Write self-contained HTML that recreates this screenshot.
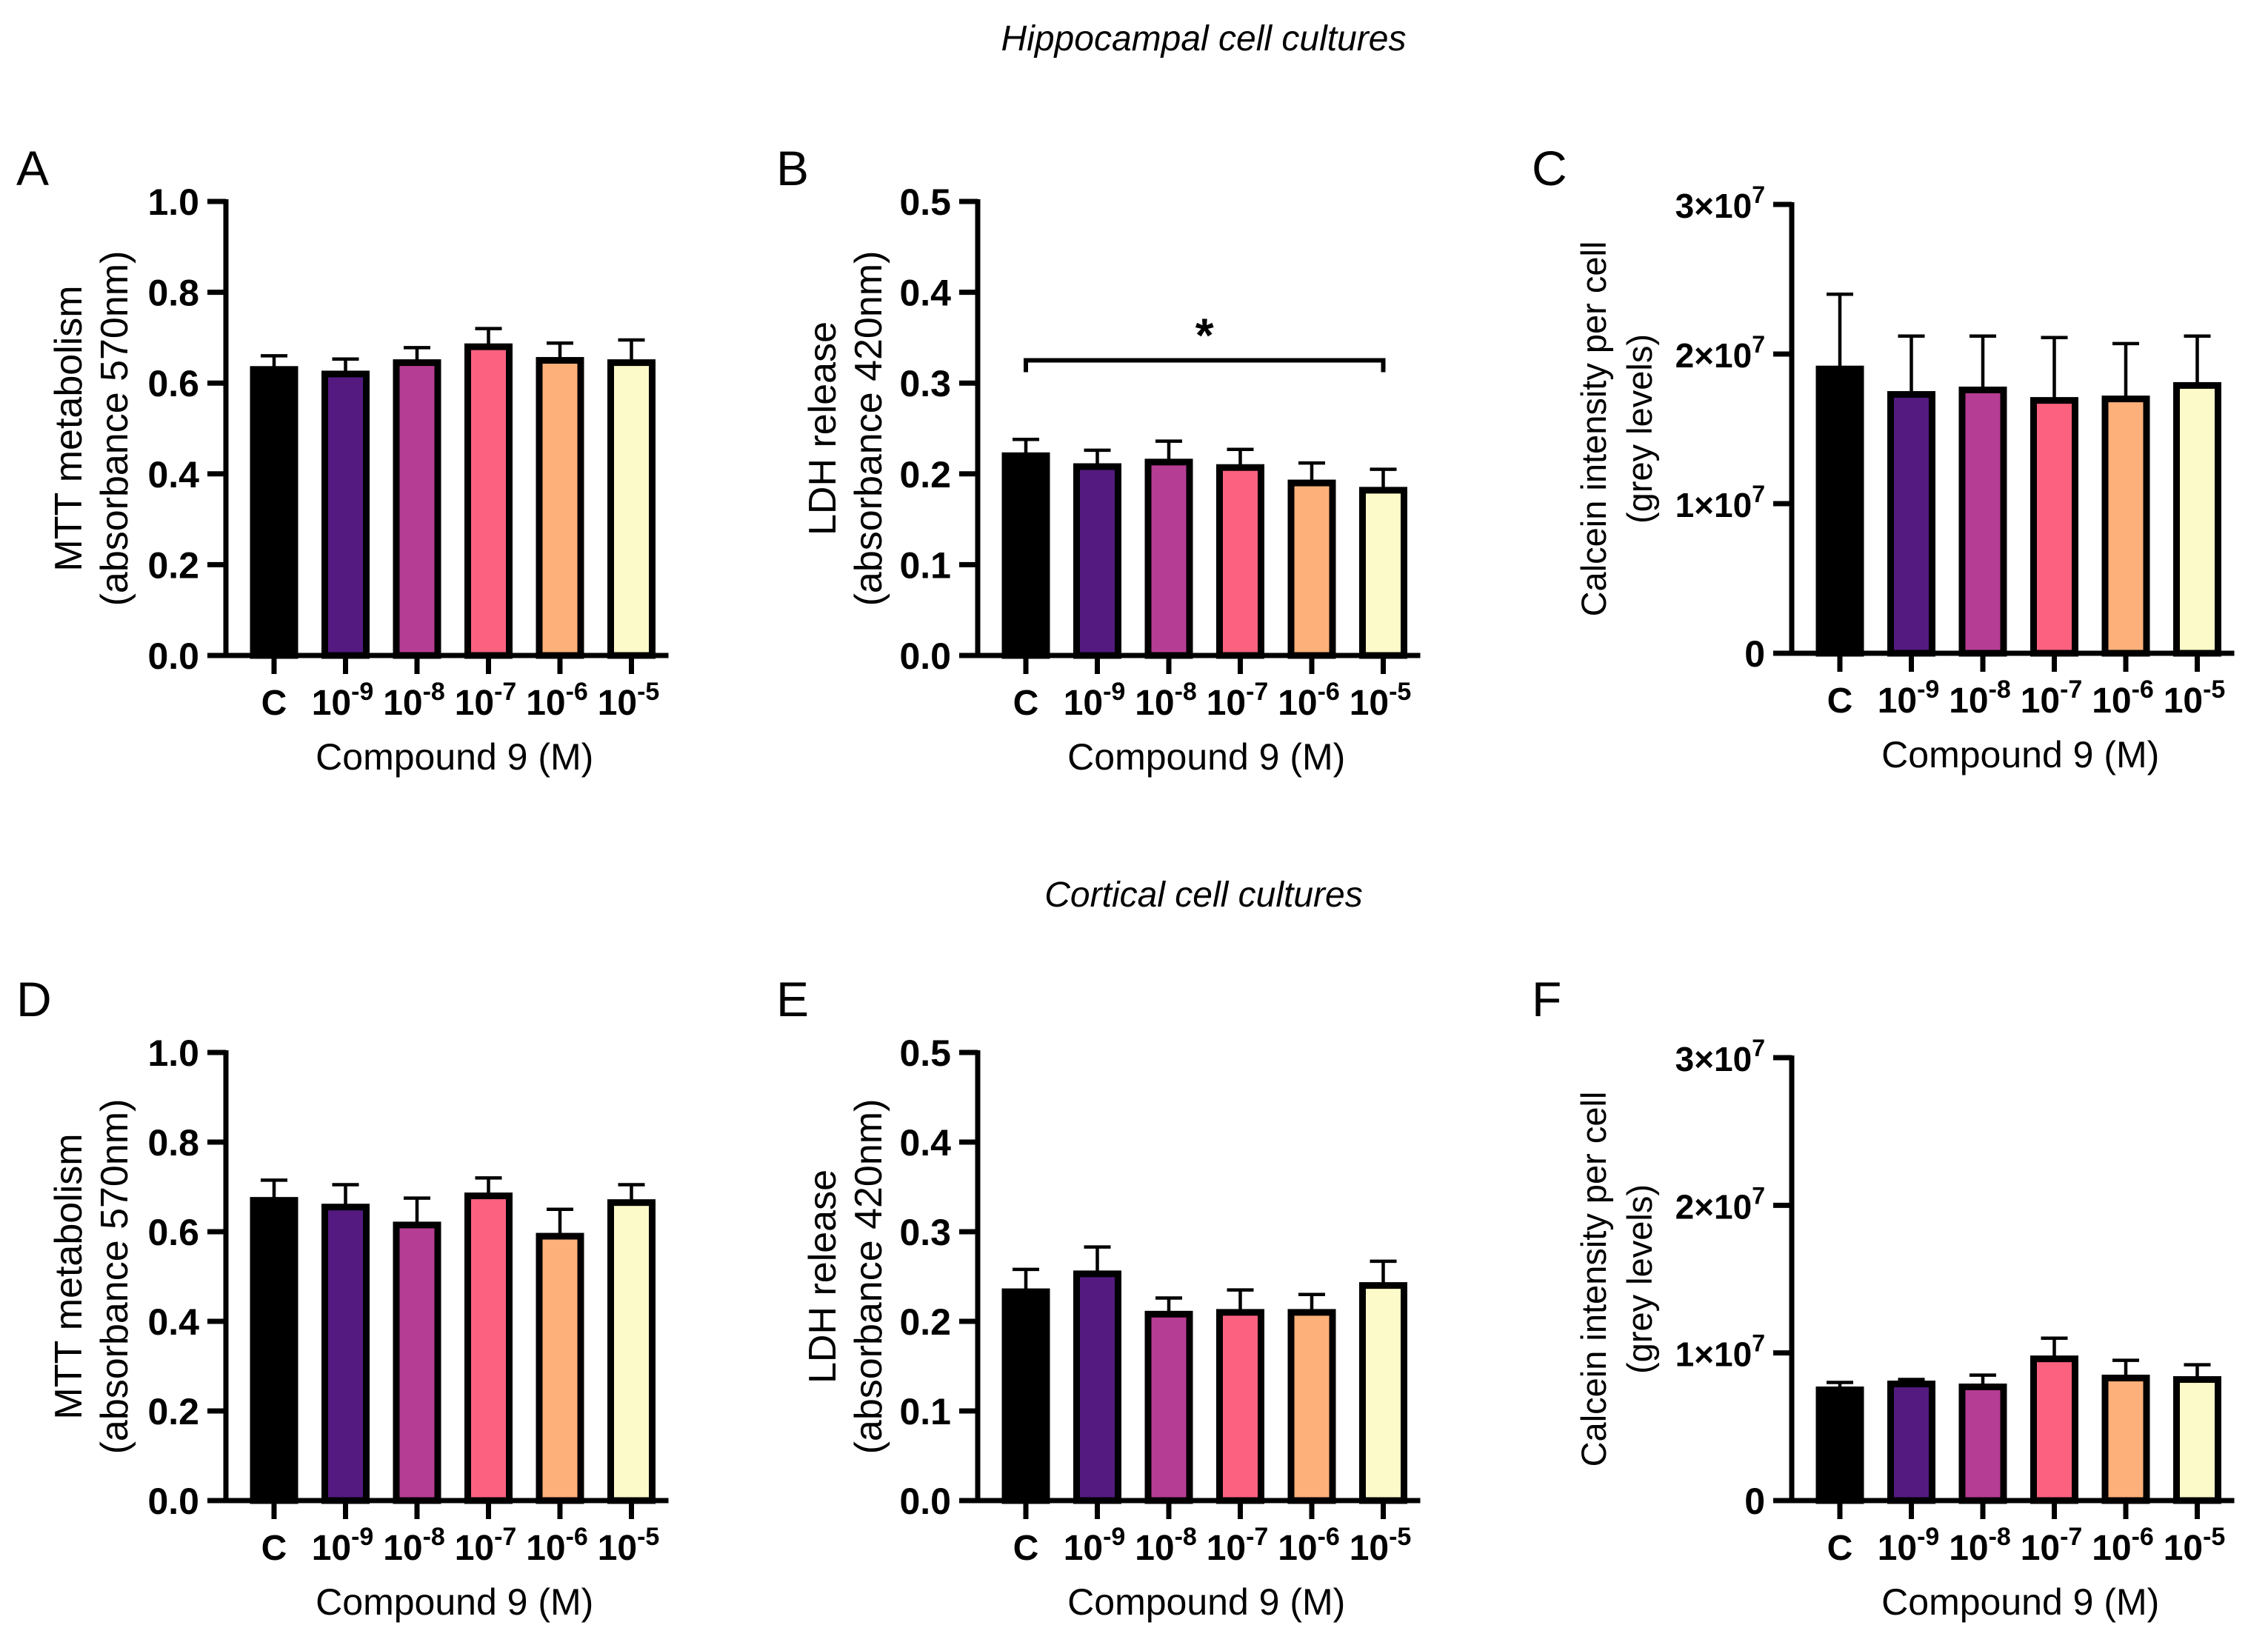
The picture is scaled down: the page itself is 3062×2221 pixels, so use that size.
<!DOCTYPE html>
<html><head><meta charset="utf-8">
<style>
html,body{margin:0;padding:0;background:#fff;}
svg{display:block;font-family:"Liberation Sans",Arial,sans-serif;}
</style></head>
<body>
<svg id="fig" width="3062" height="2221" viewBox="0 0 3062 2221" xmlns="http://www.w3.org/2000/svg">
<text x="1625" y="68" font-size="48" font-style="italic" text-anchor="middle">Hippocampal cell cultures</text>
<text x="1625" y="1224" font-size="48" font-style="italic" text-anchor="middle">Cortical cell cultures</text>
</svg>
<script>
const categories = ["C","-9","-8","-7","-6","-5"];
const colors = ["#000000","#541A80","#B63D94","#FC6180","#FDB07A","#FCFAC8"];
const valsA = [0.63,0.62,0.645,0.68,0.65,0.645];
const errA  = [0.03,0.033,0.033,0.04,0.038,0.05];
const valsB = [0.22,0.208,0.213,0.207,0.19,0.182];
const errB  = [0.018,0.018,0.023,0.02,0.022,0.023];
const valsC = [1.9e7,1.73e7,1.76e7,1.69e7,1.70e7,1.79e7];
const errC  = [0.5e7,0.39e7,0.36e7,0.42e7,0.37e7,0.33e7];
const valsD = [0.67,0.655,0.615,0.68,0.59,0.665];
const errD  = [0.045,0.05,0.06,0.04,0.06,0.04];
const valsE = [0.233,0.253,0.208,0.21,0.21,0.24];
const errE  = [0.025,0.03,0.018,0.025,0.02,0.027];
const valsF = [0.75e7,0.79e7,0.77e7,0.96e7,0.83e7,0.82e7];
const errF  = [0.05e7,0.03e7,0.08e7,0.14e7,0.12e7,0.1e7];
const ticksMTT = [0,0.2,0.4,0.6,0.8,1.0];
const ticksLDH = [0,0.1,0.2,0.3,0.4,0.5];
const ticksCal = [0,1e7,2e7,3e7];
const sigB = {from:0,to:5,level:0.325,label:"*"};

const NS="http://www.w3.org/2000/svg";
const svg=document.getElementById('fig');
function mk(tag,attrs,parent){const e=document.createElementNS(NS,tag);for(const k in attrs)e.setAttribute(k,attrs[k]);(parent||svg).appendChild(e);return e;}

const panels=[
 {letter:"A",lx:22,ly:250,ax:305,top:272,bot:885,max:1.0,ticks:ticksMTT,fmt:v=>v.toFixed(1),vals:valsA,err:errA,t1:"MTT metabolism",t2:"(absorbance 570nm)",tx:92,tf:52},
 {letter:"B",lx:1048,ly:250,ax:1320,top:272,bot:885,max:0.5,ticks:ticksLDH,fmt:v=>v.toFixed(1),vals:valsB,err:errB,t1:"LDH release",t2:"(absorbance 420nm)",tx:1110,sig:sigB,tf:52},
 {letter:"C",lx:2068,ly:250,ax:2419,top:276,bot:882,max:3e7,ticks:ticksCal,fmt:"sci",vals:valsC,err:errC,t1:"Calcein intensity per cell",t2:"(grey levels)",tx:2150,tf:47},
 {letter:"D",lx:22,ly:1372,ax:305,top:1421,bot:2026,max:1.0,ticks:ticksMTT,fmt:v=>v.toFixed(1),vals:valsD,err:errD,t1:"MTT metabolism",t2:"(absorbance 570nm)",tx:92,tf:52},
 {letter:"E",lx:1048,ly:1372,ax:1320,top:1421,bot:2026,max:0.5,ticks:ticksLDH,fmt:v=>v.toFixed(1),vals:valsE,err:errE,t1:"LDH release",t2:"(absorbance 420nm)",tx:1110,tf:52},
 {letter:"F",lx:2068,ly:1372,ax:2419,top:1428,bot:2026,max:3e7,ticks:ticksCal,fmt:"sci",vals:valsF,err:errF,t1:"Calcein intensity per cell",t2:"(grey levels)",tx:2150,tf:47}
];

panels.forEach(p=>{
  const g=mk('g',{});
  
  
  const y=v=>p.bot-(v/p.max)*(p.bot-p.top);
  const xc=i=>p.ax+65+i*96.5;
  const lt=mk('text',{x:p.lx,y:p.ly,'font-size':66},g); lt.textContent=p.letter;
  
  
  p.vals.forEach((v,i)=>{
    const top=y(v+p.err[i]);
    const el=mk('line',{x1:xc(i),x2:xc(i),y1:y(v),y2:top,stroke:'#000','stroke-width':4.5},g);
    
    
    const cap=mk('line',{x1:xc(i)-18,x2:xc(i)+18,y1:top,y2:top,stroke:'#000','stroke-width':4.5},g);
    
    
    const r=mk('rect',{x:xc(i)-28,y:y(v),width:56,height:p.bot-y(v),fill:colors[i],stroke:'#000','stroke-width':9},g);
    
    
  });
  const ya=mk('line',{x1:p.ax,x2:p.ax,y1:p.top-3,y2:p.bot+3,stroke:'#000','stroke-width':7},g);
  
  
  const xa=mk('line',{x1:p.ax-25,x2:xc(5)+50,y1:p.bot,y2:p.bot,stroke:'#000','stroke-width':7},g);
  
  
  p.ticks.forEach(t=>{
    mk('line',{x1:p.ax-25,x2:p.ax,y1:y(t),y2:y(t),stroke:'#000','stroke-width':7},g);
    const tl=mk('text',{x:p.ax-36,y:y(t)+18,'font-size':50,'font-weight':'bold','text-anchor':'end'},g);
    
    
    if(p.fmt==="sci"){
      if(t===0){tl.textContent="0";}
      else{
        tl.setAttribute('font-size',46);
        const a=mk('tspan',{},tl);a.textContent=(t/1e7)+"×10";
        const b=mk('tspan',{dy:-20,'font-size':32},tl);b.textContent="7";
      }
    } else tl.textContent=p.fmt(t);
  });
  categories.forEach((c,i)=>{
    mk('line',{x1:xc(i),x2:xc(i),y1:p.bot,y2:p.bot+25,stroke:'#000','stroke-width':7},g);
    const tl=mk('text',{x:xc(i),y:p.bot+80,'font-size':48,'font-weight':'bold','text-anchor':'middle'},g);
    
    
    if(c==="C"){tl.textContent="C";}
    else{
      tl.setAttribute('x',xc(i)-4);
      const a=mk('tspan',{},tl);a.textContent="10";
      const b=mk('tspan',{dy:-20,'font-size':34},tl);b.textContent=c;
    }
  });
  const xt=mk('text',{x:(p.ax+xc(5)+50)/2+10,y:p.bot+154,'font-size':50,'text-anchor':'middle'},g);
  xt.textContent="Compound 9 (M)";
  
  
  const cy=(p.top+p.bot)/2;
  const t1=mk('text',{x:0,y:0,'font-size':p.tf,'text-anchor':'middle',transform:`translate(${p.tx+18},${cy}) rotate(-90)`},g);
  t1.textContent=p.t1;
  
  
  const t2=mk('text',{x:0,y:0,'font-size':p.tf,'text-anchor':'middle',transform:`translate(${p.tx+80},${cy}) rotate(-90)`},g);
  t2.textContent=p.t2;
  
  
  if(p.sig){
    const s=p.sig, yy=y(s.level);
    const br=mk('path',{d:`M${xc(s.from)},${yy+16} V${yy} H${xc(s.to)} V${yy+16}`,fill:'none',stroke:'#000','stroke-width':6},g);
    
    
    const st=mk('text',{x:(xc(s.from)+xc(s.to))/2,y:yy-12,'font-size':64,'font-weight':'bold','text-anchor':'middle'},g);
    st.textContent=s.label;
    
    
  }
});
</script>
</body></html>
